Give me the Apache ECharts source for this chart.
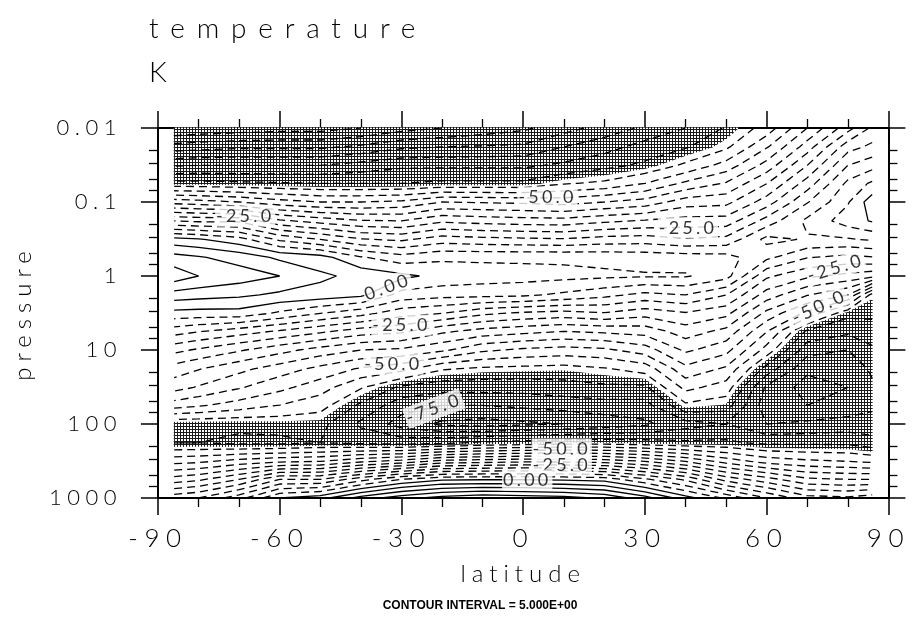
<!DOCTYPE html>
<html>
<head>
<meta charset="utf-8">
<title>temperature</title>
<script src="https://cdn.jsdelivr.net/npm/echarts@6/dist/echarts.min.js"></script>
<style>
html, body { margin: 0; background: #fff; }
#chart { width: 913px; height: 621px; }
</style>
</head>
<body>
<div id="chart"></div>
<script>
// grid columns (latitude, deg) and rows (pressure, hPa, top to bottom)
const lats = [-86, -80, -70, -60, -50, -40, -30, -20, -10, 0, 10, 20, 30, 40, 50, 60, 70, 80, 86];
const pressures = [0.01, 0.018, 0.032, 0.056, 0.1, 0.18, 0.32, 0.56, 1, 1.8, 3.2, 5.6, 10, 18, 32, 56, 100, 180, 320, 560, 1000];

// temperature, one row per pressure level
const temperature = [
    [-100, -99, -98, -97, -97, -95, -92, -90, -88, -86, -82, -78, -74, -70, -64.5, -58, -45, -32, -24],          // 0.01
    [-87.8, -87, -86, -86, -86, -84, -81, -80, -79.5, -79, -75, -72, -68, -65.5, -61, -50.6, -37.5, -22, -18.8], // 0.018
    [-75.5, -75, -75, -75, -75, -73, -71, -71, -71, -71, -69, -66.5, -64, -59, -53, -43, -30, -15, -11.9],       // 0.032
    [-63.5, -63.5, -64, -64.5, -65, -65, -65, -64, -64, -64, -60.5, -59, -55, -49, -44.5, -35.2, -22.7, -8.8, -4.1], // 0.056
    [-42, -43, -45, -48, -50, -50, -49, -45, -45.5, -46, -47, -45, -43, -37.5, -36.5, -27.5, -15.4, -5.5, 2.8],  // 0.1
    [-20, -21, -21, -29, -32, -34.5, -35, -31, -32, -32.7, -33, -31, -29.5, -28, -27.8, -18, -8.8, -2.5, 0.5],   // 0.18
    [1.7, 0.5, -3, -11, -15, -19.5, -21, -17.5, -18.5, -19, -19.5, -18, -17.5, -19.5, -18.5, -8.5, -10.5, -10.5, -9.3], // 0.32
    [11.9, 10.5, 8, 4, 2, -4.5, -8, -6, -6, -6, -6, -6.5, -7, -7.5, -8, -13.8, -19.7, -21.5, -20.3],            // 0.56
    [18, 15, 12.5, 10, 6, 3.5, 1.2, -1.5, -2.5, -3, -3.5, -4, -4.5, -4.5, -8, -24, -29, -31.5, -33.3],          // 1
    [7.8, 7, 6, 4, 3, 1.2, -7, -8.2, -8.5, -9, -11, -13.5, -16.5, -15, -19.8, -32.3, -39.7, -45, -62],         // 1.8
    [-1.7, -2, -2, -6, -10, -13.3, -18, -20, -24, -26, -27, -25.5, -28, -25.5, -28.6, -41.5, -51.4, -63.5, -64], // 3.2
    [-12.8, -14.7, -17.6, -20.7, -24, -27.5, -29, -34, -37, -38.5, -40, -39, -38, -32.5, -36.5, -49.8, -66, -69, -67], // 5.6
    [-23.5, -25.8, -29.4, -33.2, -37, -40, -41, -44, -49, -51, -52, -51, -47.5, -39, -43.3, -57, -73, -75, -71], // 10
    [-32.3, -34.7, -38.6, -42.5, -46.5, -50.7, -53.5, -59.5, -61, -61.5, -62, -60.5, -58, -46.5, -50.9, -67, -79, -79, -74], // 18
    [-38, -40.5, -44.5, -48.6, -52.8, -59.5, -66, -68, -68, -68, -67, -66, -66, -53.5, -57.3, -76, -82, -80, -76], // 32
    [-47.5, -49.3, -52.2, -55.1, -58, -66, -73, -75, -75, -74, -73, -72, -72, -61, -62.7, -78, -80, -78, -76],  // 56
    [-64, -64, -64, -63.5, -63.5, -71, -77, -81, -82, -81, -80, -78, -76, -72, -70, -75, -74, -73, -73],       // 100
    [-65, -65, -66, -66, -65, -66, -67, -66, -64, -63, -62, -62, -62.8, -64, -64, -66, -66, -66, -68],         // 180
    [-51.8, -51, -48, -46, -45, -41, -38, -33, -32, -31, -31, -32, -35, -40, -47, -52, -54, -55, -56],         // 320
    [-37.8, -36, -30, -20, -20, -12, -5, -1, -0.5, -0.5, -1, -2, -9, -16, -27, -33, -39, -40, -40],           // 560
    [-22, -20, -12, 0, 3, 12, 18, 22, 24, 23, 22, 19, 12, 2, -6, -15, -23, -24, -22]                         // 1000
];

const levelStep = 5;           // contour interval
const lowestLevel = -95;
const highestLevel = 20;
const shadeBelow = -62.5;      // stippled where colder than this
const minorTickSteps = [2, 3, 5, 7];
const decades = [0.01, 0.1, 1, 10, 100];

// contour labels: [latitude, pressure, text]
const contourLabels = [
    [-68.5, 0.155, '-25.0'],
    [6, 0.086, '-50.0'],
    [40.6, 0.224, '-25.0'],
    [-33.4, 1.41, '0.00'],
    [77, 0.78, '-25.0'],
    [73, 2.6, '-50.0'],
    [-30, 4.6, '-25.0'],
    [-32, 15.5, '-50.0'],
    [-22, 62, '-75.0'],
    [9.5, 218, '-50.0'],
    [9.5, 358, '-25.0'],
    [1, 571, '0.00']
];
const labelTilt = [0, 0, 0, 20, 17, 25, 0, 0, 20, 0, 0, 0];

// the plot's lettering is widely spaced; canvas letterSpacing does that for the Lato text
const fontProp = Object.getOwnPropertyDescriptor(CanvasRenderingContext2D.prototype, 'font');
Object.defineProperty(CanvasRenderingContext2D.prototype, 'font', {
    configurable: true,
    get() { return fontProp.get.call(this); },
    set(v) {
        fontProp.set.call(this, v);
        const m = /(\d+(?:\.\d+)?)px/.exec(v);
        const size = m ? +m[1] : 12;
        const ratio = size >= 27 ? 0.42 : size >= 20 ? 0.25 : 0.18;
        if ('letterSpacing' in this) {
            this.letterSpacing = /Lato/.test(v) ? (size * ratio).toFixed(1) + 'px' : '0px';
        }
    }
});

const logP = pressures.map(Math.log10);

function corner(i, j) {
    return [lats[i], logP[j], temperature[j][i]];
}

function crossing(a, b, level) {
    const t = (level - a[2]) / (b[2] - a[2]);
    return [a[0] + t * (b[0] - a[0]), Math.pow(10, a[1] + t * (b[1] - a[1]))];
}

function cellCorners(i, j) {
    return [[i, j], [i + 1, j], [i + 1, j + 1], [i, j + 1]];
}

function edgeKey(p, q) {
    const a = p[0] + ',' + p[1];
    const b = q[0] + ',' + q[1];
    return a < b ? a + '|' + b : b + '|' + a;
}

// marching squares, segments chained into polylines
function isolines(level) {
    const where = new Map();
    const links = new Map();
    const link = (k1, k2) => {
        if (!links.has(k1)) links.set(k1, []);
        if (!links.has(k2)) links.set(k2, []);
        links.get(k1).push(k2);
        links.get(k2).push(k1);
    };
    for (let j = 0; j < pressures.length - 1; j++) {
        for (let i = 0; i < lats.length - 1; i++) {
            const cs = cellCorners(i, j);
            const pts = cs.map(c => corner(c[0], c[1]));
            const below = pts.map(c => c[2] < level);
            const keys = [];
            const hits = [];
            for (let k = 0; k < 4; k++) {
                const n = (k + 1) % 4;
                const key = edgeKey(cs[k], cs[n]);
                keys.push(key);
                if (below[k] !== below[n]) {
                    where.set(key, crossing(pts[k], pts[n], level));
                    hits.push(k);
                }
            }
            if (hits.length === 2) {
                link(keys[hits[0]], keys[hits[1]]);
            } else if (hits.length === 4) {
                const mid = (pts[0][2] + pts[1][2] + pts[2][2] + pts[3][2]) / 4;
                if ((mid < level) === below[0]) {
                    link(keys[0], keys[1]);
                    link(keys[2], keys[3]);
                } else {
                    link(keys[3], keys[0]);
                    link(keys[1], keys[2]);
                }
            }
        }
    }
    const used = new Set();
    const walk = start => {
        const line = [where.get(start)];
        used.add(start);
        let cur = start;
        for (;;) {
            const next = links.get(cur).find(k => !used.has(k));
            if (!next) break;
            used.add(next);
            line.push(where.get(next));
            cur = next;
        }
        return line;
    };
    const lines = [];
    for (const [k, v] of links) {
        if (v.length === 1 && !used.has(k)) lines.push(walk(k));
    }
    for (const k of links.keys()) {
        if (!used.has(k)) {
            const line = walk(k);
            line.push(line[0]);
            lines.push(line);
        }
    }
    return lines;
}

function shadeCells(limit) {
    const polys = [];
    for (let j = 0; j < pressures.length - 1; j++) {
        for (let i = 0; i < lats.length - 1; i++) {
            const pts = cellCorners(i, j).map(c => corner(c[0], c[1]));
            const poly = [];
            for (let k = 0; k < 4; k++) {
                const a = pts[k], b = pts[(k + 1) % 4];
                if (a[2] < limit) poly.push([a[0], Math.pow(10, a[1])]);
                if ((a[2] < limit) !== (b[2] < limit)) poly.push(crossing(a, b, limit));
            }
            if (poly.length >= 3) polys.push(poly);
        }
    }
    return polys;
}

// stipple like the plotter's shading
const hatch = document.createElement('canvas');
hatch.width = hatch.height = 3;
const hctx = hatch.getContext('2d');
hctx.fillStyle = '#1a1a1a';
hctx.fillRect(0, 0, 3, 3);
hctx.fillStyle = '#fff';
hctx.fillRect(1, 1, 2, 2);
const hatchFill = { image: hatch, repeat: 'repeat' };

const shadePolys = shadeCells(shadeBelow);

const contourSeries = [];
for (let level = lowestLevel; level <= highestLevel; level += levelStep) {
    for (const line of isolines(level + 1e-6)) {
        contourSeries.push({
            type: 'line',
            data: line,
            symbol: 'none',
            showSymbol: false,
            silent: true,
            z: 3,
            lineStyle: { color: '#000', width: 1.3, type: level < 0 ? [8, 5] : 'solid' }
        });
    }
}

const minorPressures = [];
decades.forEach(d => minorTickSteps.forEach(s => minorPressures.push(+(d * s).toPrecision(3))));

const textFont = { fontFamily: 'Lato', fontWeight: 300, color: '#000' };
const frameLine = { onZero: false, lineStyle: { color: '#000', width: 2 } };

function xAxisAt(position, withLabels) {
    return {
        type: 'value', min: -90, max: 90, interval: 30, position,
        axisLine: frameLine,
        axisTick: { length: 17, lineStyle: { color: '#000', width: 1.5 } },
        minorTick: { show: true, splitNumber: 3, length: 9, lineStyle: { color: '#000', width: 1.3 } },
        axisLabel: withLabels ? { margin: 24, fontSize: 26, ...textFont } : { show: false },
        splitLine: { show: false },
        name: withLabels ? 'latitude' : '',
        nameLocation: 'middle',
        nameGap: 60,
        nameTextStyle: { fontSize: 24, ...textFont }
    };
}

function yAxisAt(position, withLabels) {
    return {
        type: 'log', logBase: 10, min: 0.01, max: 1000, inverse: true, position,
        axisLine: frameLine,
        axisTick: { length: 17, lineStyle: { color: '#000', width: 1.5 } },
        axisLabel: withLabels
            ? { margin: 36, fontSize: 22, formatter: v => String(+Number(v).toPrecision(3)), ...textFont }
            : { show: false },
        splitLine: { show: false },
        name: withLabels ? 'pressure' : '',
        nameLocation: 'middle',
        nameGap: 110,
        nameTextStyle: { fontSize: 24, ...textFont }
    };
}

function yMinorAt(position) {
    return {
        type: 'log', logBase: 10, min: 0.01, max: 1000, inverse: true, position,
        axisLine: { show: false, onZero: false },
        axisTick: { length: 9, customValues: minorPressures, lineStyle: { color: '#000', width: 1.3 } },
        axisLabel: { show: false },
        splitLine: { show: false }
    };
}

const chart = echarts.init(document.getElementById('chart'));
chart.setOption({
    animation: false,
    backgroundColor: '#fff',
    title: {
        text: 'temperature',
        subtext: 'K',
        left: 144,
        top: 4,
        itemGap: 4,
        textStyle: { fontSize: 28, ...textFont },
        subtextStyle: { fontSize: 28, ...textFont }
    },
    grid: { left: 143, right: 23, top: 128, bottom: 123 },
    xAxis: [xAxisAt('bottom', true), xAxisAt('top', false)],
    yAxis: [yAxisAt('left', true), yAxisAt('right', false), yMinorAt('left'), yMinorAt('right')],
    graphic: [{
        type: 'text',
        x: 480,
        y: 606,
        style: {
            text: 'CONTOUR INTERVAL = 5.000E+00',
            font: 'bold 12px "Liberation Sans"',
            fill: '#000',
            align: 'center',
            verticalAlign: 'middle'
        }
    }],
    series: [
        {
            type: 'custom',
            coordinateSystem: 'cartesian2d',
            silent: true,
            z: 1,
            data: shadePolys.map((poly, k) => [poly[0][0], poly[0][1], k]),
            renderItem(params, api) {
                const poly = shadePolys[params.dataIndex];
                return {
                    type: 'polygon',
                    shape: { points: poly.map(pt => api.coord(pt)) },
                    style: { fill: hatchFill, stroke: hatchFill, lineWidth: 0.8 }
                };
            }
        },
        ...contourSeries,
        {
            type: 'scatter',
            symbolSize: 0,
            silent: true,
            z: 5,
            data: contourLabels.map((d, k) => ({
                value: [d[0], d[1]],
                label: { formatter: d[2], rotate: labelTilt[k] }
            })),
            label: {
                show: true,
                position: 'inside',
                fontSize: 18,
                padding: [0, 1],
                backgroundColor: '#fff',
                fontFamily: 'Lato',
                fontWeight: 400,
                color: '#000'
            }
        }
    ]
});
</script>
</body>
</html>
